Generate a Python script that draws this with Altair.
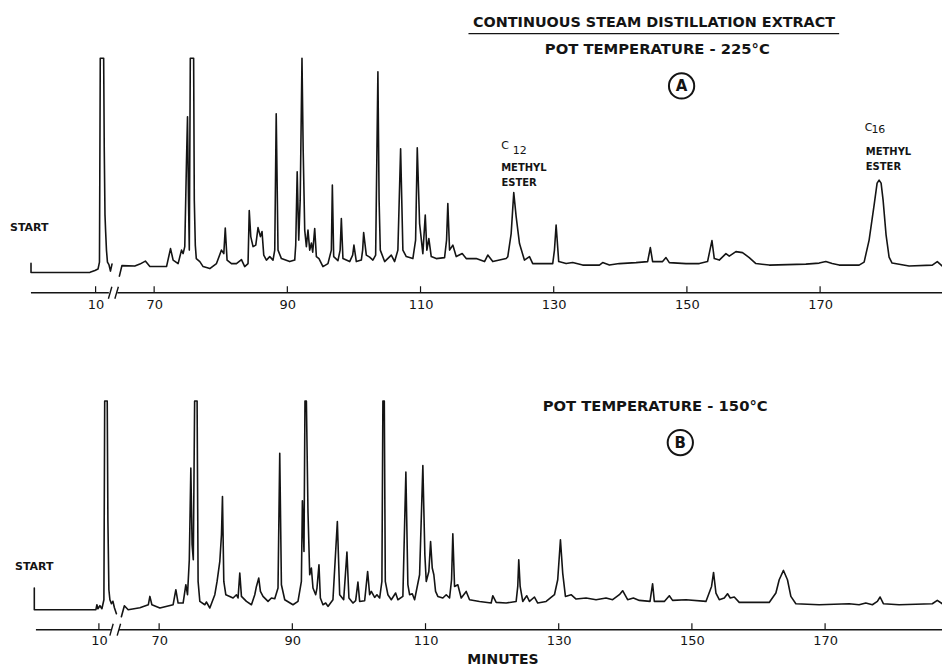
import altair as alt
import pandas as pd

FONT = "DejaVu Sans"
INK = "#141414"

# ---------------- Panel A : pot temperature 225 °C ----------------
# early part of the run (real minutes, drawn before the axis break)
a_early_min = [0.3, 0.3, 9.16, 9.9, 10.36, 10.58, 10.7, 11.21, 11.3, 11.41, 11.51,
               11.63, 11.78, 12.0, 12.23, 12.46]
a_early_resp = [9.2, 0, 0.2, 2, 3.5, 10.5, 214.5, 214.5, 122.5, 57.5, 40.5,
                22.5, 10.5, 8, 1.5, 8.5]
# main part of the run (minutes)
a_late_min = [64.78, 65.16, 67.1, 67.86, 68.68, 69.36, 71.86, 72.46, 72.85, 73.6,
              74.11, 74.35, 74.6, 74.86, 75.01, 75.16, 75.28, 75.43, 75.93, 76.03,
              76.18, 76.33, 76.86, 77.35, 78.36, 79.36, 80.11, 80.46, 80.68, 80.95,
              81.61, 82.36, 83.11, 83.6, 84.1, 84.28, 84.51, 84.85, 85.26, 85.6,
              85.96, 86.2, 86.46, 86.86, 87.36, 87.85, 88.11, 88.33, 88.6, 89.11,
              90.36, 91.11, 91.26, 91.48, 91.71, 91.93, 92.2, 92.38, 92.61, 92.86,
              93.1, 93.36, 93.61, 93.81, 94.11, 94.36, 94.75, 95.35, 96.1, 96.61,
              96.76, 96.96, 97.6, 97.93, 98.11, 98.35, 99.36, 99.81, 100.0, 100.36,
              101.11, 101.31, 101.46, 101.86, 102.36, 102.85, 103.26, 103.6, 103.78, 103.96,
              104.61, 105.61, 106.11, 106.6, 107.01, 107.35, 107.86, 108.85, 109.26, 109.51,
              109.86, 110.35, 110.71, 110.95, 111.25, 111.61, 112.36, 113.61, 113.91, 114.1,
              114.36, 114.85, 115.36, 116.26, 116.86, 118.36, 119.61, 120.1, 120.85, 122.86,
              123.1, 123.61, 124.0, 124.36, 124.86, 125.6, 126.36, 126.85, 128.35, 129.85,
              130.11, 130.36, 130.75, 131.86, 132.85, 134.35, 136.86, 137.35, 138.36, 139.86,
              142.36, 144.1, 144.51, 144.85, 146.35, 146.86, 147.36, 149.86, 151.86, 153.1,
              153.76, 154.11, 154.86, 155.86, 156.36, 157.36, 158.35, 159.36, 160.36, 162.36,
              167.86, 169.86, 170.86, 171.81, 172.86, 175.86, 176.61, 177.36, 178.11, 178.56,
              178.86, 179.16, 179.46, 179.91, 180.36, 180.81, 183.36, 186.85, 187.6, 188.35,
              189.5]
a_late_resp = [-3.5, 7, 6.5, 8.5, 11.5, 6, 6, 24, 12.5, 9,
               22.5, 19, 26, 112.5, 156, 72.5, 22.5, 214.5, 214.5, 72.5,
               27.5, 14, 11, 6, 4, 9, 22.5, 19, 44.5, 12.5,
               9, 9, 13, 6, 9, 62, 36, 26, 27.5, 45,
               36, 41, 17.5, 12.5, 16, 12.5, 22.5, 159, 22.5, 14,
               11, 12.5, 27.5, 101, 32.5, 72.5, 214.5, 122.5, 42.5, 26,
               42.5, 22.5, 29.5, 20.5, 44, 16, 14, 6, 9, 22.5,
               87.5, 16, 12, 22.5, 54, 14, 11, 17.5, 27.5, 11,
               12.5, 22.5, 40, 17.5, 15.5, 12.5, 17.5, 201, 72.5, 22.5,
               11, 17.5, 11, 22.5, 124, 22.5, 16, 14, 32.5, 125,
               49, 19, 57.5, 22.5, 34, 16, 14, 15, 32.5, 69,
               22.5, 27.5, 16, 19, 14, 14, 11, 17.5, 11, 14,
               15.8, 39, 80, 56, 29, 12.5, 16, 9, 9, 9,
               22.5, 47.5, 11, 9, 10, 7.5, 7.5, 10, 7.5, 9,
               10, 11, 25, 11, 11, 15, 10, 9, 9, 11,
               32, 14, 12.5, 19, 16.5, 21, 20, 15, 9, 7.5,
               8.5, 9.5, 11, 9, 7.5, 7.5, 10.5, 32.5, 67.5, 89.5,
               92.5, 89.5, 72.5, 37.5, 15.5, 9.5, 6.5, 7.5, 11, 6.5,
               6.5]

# ---------------- Panel B : pot temperature 150 °C ----------------
b_early_min = [0.3, 0.3, 9.55, 9.7, 9.85, 10.15, 10.45, 10.75, 10.87, 11.25,
               11.35, 11.5, 11.65, 11.88, 12.1, 12.33, 12.63]
b_early_resp = [21.7, 0, 0, 5, 1, 4, 1, 10, 209, 209,
                90, 20, 10, 6, 8.5, 2, -4]
b_late_min = [64.33, 64.78, 65.35, 67.11, 68.38, 68.61, 68.91, 70.11, 72.1, 72.51,
              72.85, 73.6, 74.01, 74.26, 74.53, 74.76, 74.95, 75.13, 75.33, 75.7,
              75.85, 76.11, 76.86, 77.11, 77.61, 78.36, 78.7, 79.11, 79.36, 79.51,
              79.71, 80.01, 80.61, 81.1, 81.61, 81.85, 82.11, 82.36, 83.11, 83.86,
              84.36, 84.61, 84.96, 85.21, 85.6, 86.35, 86.86, 87.36, 87.85, 88.11,
              88.36, 88.86, 90.1, 90.85, 91.36, 91.51, 91.75, 91.9, 92.11, 92.35,
              92.61, 92.86, 93.1, 93.51, 93.7, 94.0, 94.21, 94.6, 95.01, 95.35,
              96.1, 96.76, 97.11, 97.71, 98.2, 98.5, 99.1, 99.51, 99.85, 100.11,
              100.86, 101.31, 101.61, 101.86, 102.36, 102.7, 103.11, 103.45, 103.6, 103.81,
              103.96, 104.35, 104.86, 105.51, 105.85, 106.6, 107.05, 107.35, 107.61, 108.01,
              108.36, 109.11, 109.6, 109.9, 110.11, 110.5, 110.76, 111.01, 111.25, 111.51,
              111.85, 112.6, 113.11, 113.61, 113.91, 114.1, 114.36, 114.85, 115.36, 116.11,
              116.61, 118.11, 119.86, 120.1, 120.61, 122.11, 123.61, 123.85, 124.0, 124.21,
              124.6, 125.2, 125.61, 126.36, 126.85, 128.11, 129.36, 129.85, 130.26, 130.6,
              131.01, 131.86, 132.61, 134.11, 135.61, 137.11, 138.1, 139.11, 139.6, 140.35,
              141.21, 142.11, 143.71, 144.1, 144.36, 145.86, 146.61, 147.1, 149.11, 152.11,
              152.95, 153.25, 153.61, 154.11, 154.86, 155.35, 155.76, 156.36, 157.11, 161.61,
              162.61, 163.11, 163.75, 164.35, 164.86, 165.61, 169.11, 173.61, 175.11, 176.11,
              177.1, 177.85, 178.26, 178.75, 181.11, 186.1, 186.85, 187.6, 188.76]
b_late_resp = [-7, 4, 0, 2, 5, 13.3, 5, 1.7, 5, 20,
               6.7, 6.7, 25, 15, 50, 141.7, 65, 50, 209, 209,
               28.3, 8.3, 5, 7.7, 1.7, 15, 28.3, 48.3, 75, 113.3,
               28.3, 15, 13.3, 11.7, 15, 11.7, 36.7, 13.3, 8.3, 5,
               15, 23.3, 31.7, 18.3, 13.3, 8.3, 11.7, 11, 21.7, 156.7,
               25, 10, 5, 8.3, 28.3, 109, 58.3, 209, 209, 98.3,
               35, 41.7, 21.7, 15, 21.7, 45, 11.7, 5, 6.7, 3.3,
               10, 88.3, 15, 10, 57.7, 11.7, 6.7, 9, 27.7, 8.3,
               9, 38.3, 15, 18.3, 12.3, 15, 11.7, 28.3, 209, 209,
               28.3, 15, 10, 16.7, 10, 13.3, 137.7, 25, 15, 16,
               10, 35, 144.3, 55, 28.3, 38.3, 68.3, 41.7, 35, 18.3,
               13.3, 11.7, 15, 11.7, 30, 76, 23.3, 25, 11.7, 18.3,
               10, 8.3, 6.7, 14, 7.3, 6.7, 8.3, 23.3, 50, 23.3,
               8.3, 14, 8.3, 12.7, 6.7, 8.3, 15, 30, 70, 36.7,
               13.3, 15, 10.7, 11.7, 10, 11.7, 10, 15, 19, 10,
               11.7, 9.3, 8.3, 26, 8.3, 8.3, 14, 9.3, 10, 8.3,
               23.3, 37.3, 16.7, 10, 11.7, 16, 11.7, 12.7, 7.3, 7.3,
               16.7, 30, 39.3, 30, 13.3, 6, 5, 6, 5, 6.7,
               5, 8.3, 12.7, 6, 5, 6, 9.3, 6, 6]

# axis ticks (minutes) and their labels
tick_minutes = [10, 70, 90, 110, 130, 150, 170]
tick_labels = ["10", "70", "90", "110", "130", "150", "170"]


def panel(early_min, early_resp, late_min, late_resp, offset, xdom, ydom, height,
          axis_y, axis_segs, slashes, texts, circle, underline=None, axis_title=None):
    xs = alt.Scale(domain=xdom, nice=False, zero=False)
    ys = alt.Scale(domain=ydom, nice=False, zero=False)

    tick_pos = [m + offset if m < 30 else m for m in tick_minutes]
    expr = "datum.value < 64 ? '%s' : format(datum.value, 'd')" % tick_labels[0]
    axis_kw = dict(values=tick_pos, labelExpr=expr, domain=False, ticks=False, grid=False,
                   labelFont=FONT, labelFontSize=13, labelColor=INK, labelPadding=5,
                   labelFlush=False, labelOverlap=False)
    if axis_title:
        axis_kw.update(title=axis_title, titleFont=FONT, titleFontSize=14,
                       titleFontWeight="bold", titleColor=INK, titleX=495, titleY=30,
                       titleAlign="center", titleBaseline="middle")
    else:
        axis_kw.update(title=None)
    axis = alt.Axis(**axis_kw)

    def X(field):
        return alt.X(field, type="quantitative", scale=xs, axis=axis)

    def Y(field):
        return alt.Y(field, type="quantitative", scale=ys, axis=None)

    n_e = len(early_min)
    trace = pd.DataFrame({
        "t": [m + offset for m in early_min] + list(late_min),
        "r": list(early_resp) + list(late_resp),
        "seg": ["early"] * n_e + ["late"] * len(late_min),
        "i": list(range(n_e + len(late_min))),
    })

    layers = []
    layers.append(
        alt.Chart(trace).mark_line(color=INK, strokeWidth=1.6, clip=True,
                                   strokeJoin="round", strokeCap="round")
        .encode(x=X("t"), y=Y("r"), detail="seg:N", order="i:Q")
    )
    # broken axis line
    seg_df = pd.DataFrame({"t": [s[0] for s in axis_segs], "t2": [s[1] for s in axis_segs],
                           "r": [axis_y] * len(axis_segs)})
    layers.append(alt.Chart(seg_df).mark_rule(color=INK, strokeWidth=1.5)
                  .encode(x=X("t"), x2="t2", y=Y("r")))
    sl_df = pd.DataFrame({"t": [s[0] for s in slashes], "t2": [s[1] for s in slashes],
                          "r": [axis_y - 6] * len(slashes), "r2": [axis_y + 6] * len(slashes)})
    layers.append(alt.Chart(sl_df).mark_rule(color=INK, strokeWidth=1.4)
                  .encode(x=X("t"), x2="t2", y=Y("r"), y2="r2"))
    tk_df = pd.DataFrame({"t": tick_pos, "r": [axis_y] * len(tick_pos),
                          "r2": [axis_y + 6.5] * len(tick_pos)})
    layers.append(alt.Chart(tk_df).mark_rule(color=INK, strokeWidth=1.2)
                  .encode(x=X("t"), y=Y("r"), y2="r2"))
    # texts
    tdf = pd.DataFrame(texts, columns=["text", "t", "r", "size", "weight", "align"])
    for (w, a), g in tdf.groupby(["weight", "align"]):
        layers.append(
            alt.Chart(g.reset_index(drop=True)).mark_text(font=FONT, fontWeight=w, align=a,
                                                          baseline="middle", color=INK)
            .encode(x=X("t"), y=Y("r"), text="text:N", size=alt.Size("size:Q", scale=None))
        )
    cdf = pd.DataFrame({"t": [circle[0]], "r": [circle[1]]})
    layers.append(alt.Chart(cdf).mark_point(shape="circle", filled=False, size=640,
                                            strokeWidth=2, color=INK, opacity=1)
                  .encode(x=X("t"), y=Y("r")))
    if underline:
        udf = pd.DataFrame({"t": [underline[0]], "t2": [underline[1]], "r": [underline[2]]})
        layers.append(alt.Chart(udf).mark_rule(color=INK, strokeWidth=1.5)
                      .encode(x=X("t"), x2="t2", y=Y("r")))
    return alt.layer(*layers).properties(width=935, height=height)


texts_a = [
    ("CONTINUOUS STEAM DISTILLATION EXTRACT", 145.06, 250, 14.4, "bold", "center"),
    ("POT TEMPERATURE - 225°C", 145.56, 222.5, 14.8, "bold", "center"),
    ("A", 149.2, 186.8, 15, "bold", "center"),
    ("C", 122.11, 126.5, 11, "normal", "left"),
    ("12", 123.85, 121.5, 11, "normal", "left"),
    ("METHYL", 122.11, 104.2, 10, "bold", "left"),
    ("ESTER", 122.16, 89.8, 10, "bold", "left"),
    ("C", 176.71, 144.5, 11, "normal", "left"),
    ("16", 177.7, 143.2, 11, "normal", "left"),
    ("METHYL", 176.86, 120.8, 10, "bold", "left"),
    ("ESTER", 176.86, 105.8, 10, "bold", "left"),
    ("START", 48.36, 44.5, 11, "bold", "left"),
]
texts_b = [
    ("POT TEMPERATURE - 150°C", 144.48, 202.7, 14.8, "bold", "center"),
    ("B", 148.26, 167.3, 15, "bold", "center"),
    ("START", 48.36, 43, 11, "bold", "left"),
]

panel_a = panel(a_early_min, a_early_resp, a_late_min, a_late_resp, 51.21,
                [48.055, 188.305], [-20.5, 264.5], 285, -20.2,
                [(51.5, 63.2), (64.48, 188.305)], [(63.13, 63.65), (64.1, 64.63)],
                texts_a, (149.2, 186.8), underline=(117.2, 172.86, 239.2))
panel_b = panel(b_early_min, b_early_resp, b_late_min, b_late_resp, 50.955,
                [47.305, 187.555], [-20, 230], 250, -20,
                [(51.5, 62.75), (63.96, 187.555)], [(62.6, 63.1), (63.7, 64.21)],
                texts_b, (148.26, 167.3), axis_title="MINUTES")

chart = (
    alt.vconcat(panel_a, panel_b, spacing=69)
    .properties(padding=0, background="white")
    .configure_view(strokeWidth=0)
)

chart.save("out.html", embed_options={"renderer": "svg", "actions": False})
